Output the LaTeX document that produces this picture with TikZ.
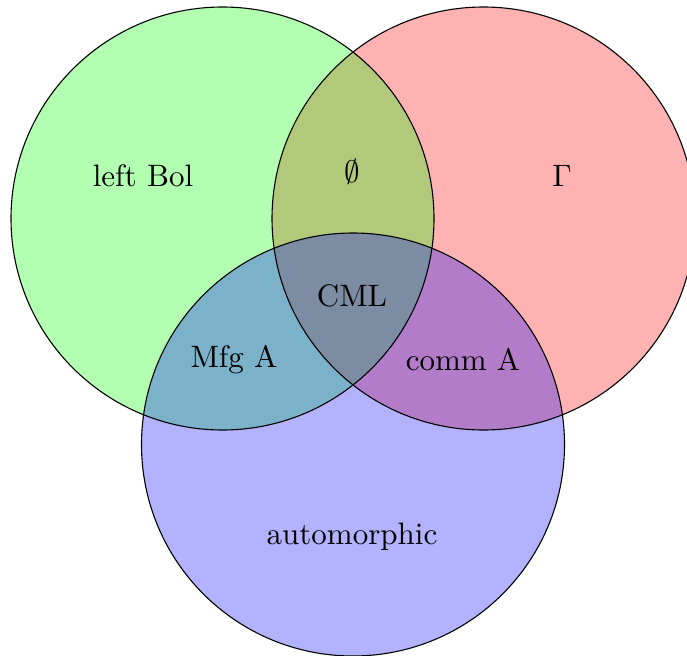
\documentclass[tikz,border=0pt]{standalone}
\newcommand\biglab[1]{\scalebox{3.1}{#1}}
\begin{document}
\begin{tikzpicture}[x=1pt,y=-1pt,
  setfill/.style={fill opacity=0.3},
  lab/.style={inner sep=0pt}]
\useasboundingbox (0,0) rectangle (687,655);
\coordinate (cg) at (222.5,218.5);
\coordinate (cr) at (483.5,218.5);
\coordinate (cb) at (353,444.5);
\fill[red, setfill] (cr) circle (211.5);
\fill[green, setfill] (cg) circle (211.5);
\fill[blue, setfill] (cb) circle (211.5);
\draw[line width=1.1pt] (cg) circle (211.5);
\draw[line width=1.1pt] (cr) circle (211.5);
\draw[line width=1.1pt] (cb) circle (211.5);
\node[lab] (lb) at (143,176) {\biglab{left Bol}};
\node[lab] (es) at (352,172) {\biglab{$\emptyset$}};
\node[lab] (ga) at (562,176) {\biglab{$\Gamma$}};
\node[lab] (cml) at (352,296) {\biglab{CML}};
\node[lab] (mfg) at (234,360) {\biglab{Mfg A}};
\node[lab] (comm) at (463,360) {\biglab{comm A}};
\node[lab] (aut) at (352,537) {\biglab{automorphic}};
\end{tikzpicture}
\end{document}
